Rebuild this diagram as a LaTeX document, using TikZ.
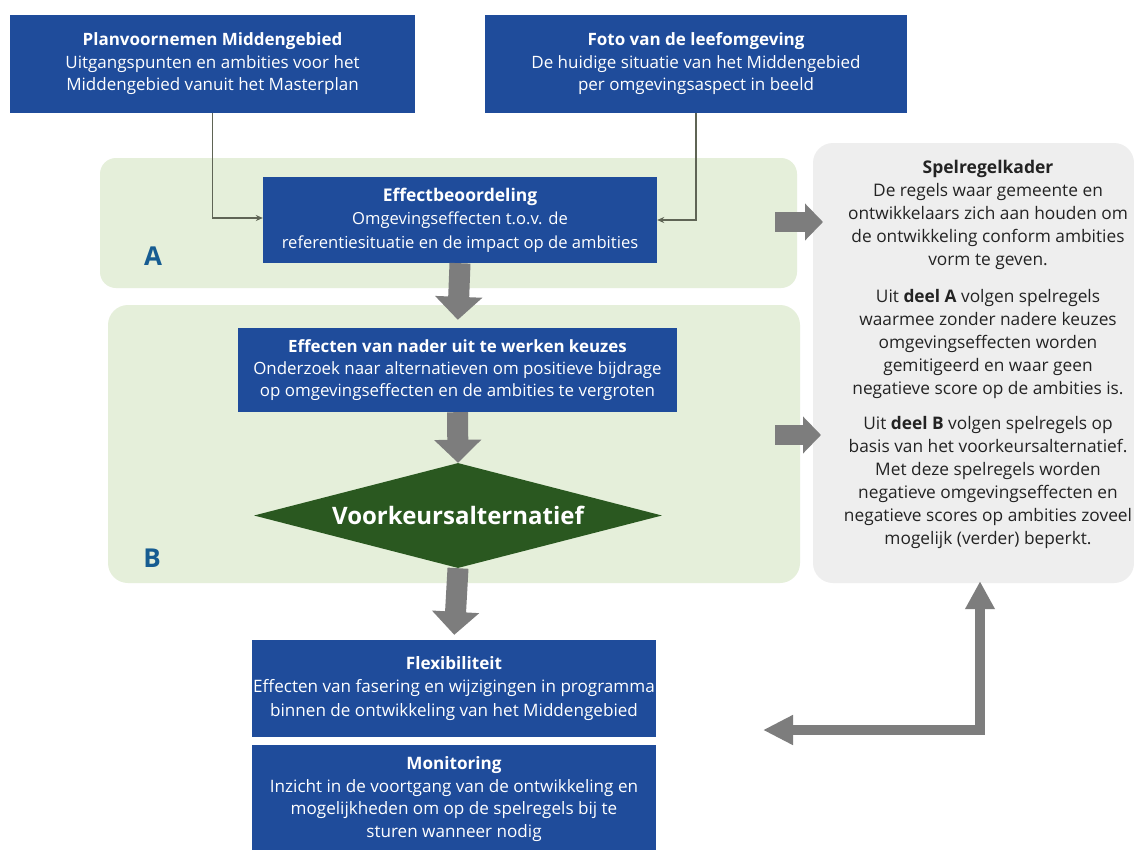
\documentclass[tikz,border=0pt]{standalone}
\usepackage{fontspec}
\setmainfont{Open Sans}
\usetikzlibrary{arrows.meta,shapes.geometric}
\definecolor{boxblue}{RGB}{31,76,155}
\definecolor{lightgreen}{RGB}{229,239,218}
\definecolor{darkgreen}{RGB}{42,88,32}
\definecolor{kadergray}{RGB}{238,238,238}
\definecolor{arrowgray}{RGB}{125,125,125}
\definecolor{linegray}{RGB}{95,100,85}
\definecolor{labelblue}{RGB}{22,92,145}
\definecolor{kadertextcol}{RGB}{35,35,35}
\tikzset{
  bluebox/.style={fill=boxblue, text=white, inner sep=0pt, align=center, anchor=center},
  greenzone/.style={fill=lightgreen, rounded corners=16pt, inner sep=0pt, anchor=center},
  fatarrow/.style={draw=arrowgray, line width=21pt, -{Triangle[width=46pt,length=23pt]}},
  sidearrow/.style={draw=arrowgray, line width=20pt, -{Triangle[width=36pt,length=18pt]}},
  loopback/.style={draw=arrowgray, line width=10pt, line join=miter, {Triangle[width=28pt,length=28pt]}-{Triangle[width=28pt,length=30pt]}},
  thinconn/.style={draw=linegray, line width=1.6pt, -{Stealth[length=7pt,width=6pt]}},
  zonelabel/.style={text=labelblue, font=\fontsize{26}{28}\selectfont\bfseries, anchor=center}
}
\begin{document}
\begin{tikzpicture}[x=1pt,y=-1pt]
\useasboundingbox (0,0) rectangle (1134,849);
\fill[white] (0,0) rectangle (1134,849);

% zones
\node[greenzone, minimum width=697pt, minimum height=130pt] (zoneA) at (448.5,223) {};
\node[greenzone, minimum width=692pt, minimum height=278pt, rounded corners=20pt] (zoneB) at (454,444) {};
\node[fill=kadergray, rounded corners=20pt, inner sep=0pt, minimum width=321pt, minimum height=440pt, anchor=center] (kader) at (973.5,363) {};

% top boxes
\node[bluebox, minimum width=405pt, minimum height=98pt, font=\fontsize{17}{22.5}\selectfont] (plan) at (212.5,64)
  {\textbf{Planvoornemen Middengebied}\\Uitgangspunten en ambities voor het\\Middengebied vanuit het Masterplan};
\node[bluebox, minimum width=422pt, minimum height=98pt, font=\fontsize{17}{22.5}\selectfont] (foto) at (696,64)
  {\textbf{Foto van de leefomgeving}\\De huidige situatie van het Middengebied\\per omgevingsaspect in beeld};

% part A
\node[bluebox, minimum width=394pt, minimum height=86pt, font=\fontsize{16.6}{23.5}\selectfont] (effect) at (460,220)
  {{\fontsize{17.5}{23.5}\selectfont\textbf{Effectbeoordeling}}\\Omgevingseffecten t.o.v. de\\referentiesituatie en de impact op de ambities};
\node[zonelabel] (labA) at (153,256) {A};

% part B
\node[bluebox, minimum width=439pt, minimum height=84pt, font=\fontsize{16.9}{22}\selectfont] (effecten) at (457.5,370)
  {\textbf{Effecten van nader uit te werken keuzes}\\Onderzoek naar alternatieven om positieve bijdrage\\op omgevingseffecten en de ambities te vergroten};
\node[diamond, fill=darkgreen, text=white, inner sep=0pt, shape aspect=3.9, minimum width=408pt, minimum height=105pt, anchor=center, font=\fontsize{24}{26}\selectfont\bfseries] (voork) at (458,515.5) {Voorkeursalternatief};
\node[zonelabel] (labB) at (152,558) {B};

% lower boxes
\node[bluebox, minimum width=404pt, minimum height=97pt, font=\fontsize{17.1}{23.5}\selectfont] (flex) at (454,688.5)
  {\textbf{Flexibiliteit}\\Effecten van fasering en wijzigingen in programma\\binnen de ontwikkeling van het Middengebied};
\node[bluebox, minimum width=404pt, minimum height=108pt, font=\fontsize{17.1}{22.8}\selectfont] (monitor) at (454,799)
  {\textbf{Monitoring}\\Inzicht in de voortgang van de ontwikkeling en\\mogelijkheden om op de spelregels bij te\\sturen wanneer nodig};

% kader text
\node[align=center, inner sep=0pt, anchor=center, text=kadertextcol, font=\fontsize{17.3}{23}\selectfont] (kadertext) at (988,354)
  {{\fontsize{17.5}{23}\selectfont\textbf{Spelregelkader}}\\
   De regels waar gemeente en\\ontwikkelaars zich aan houden om\\de ontwikkeling conform ambities\\vorm te geven.\\[14pt]
   Uit \textbf{deel A} volgen spelregels\\waarmee zonder nadere keuzes\\omgevingseffecten worden\\gemitigeerd en waar geen\\negatieve score op de ambities is.\\[12pt]
   Uit \textbf{deel B} volgen spelregels op\\basis van het voorkeursalternatief.\\Met deze spelregels worden\\negatieve omgevingseffecten en\\negatieve scores op ambities zoveel\\mogelijk (verder) beperkt.};

% thin connectors
\draw[thinconn] (plan.south) |- ([yshift=2pt]effect.west);
\draw[thinconn] (foto.south) |- (effect.east);

% fat arrows
\draw[fatarrow, shorten >=8pt] (effect.south) -- (effecten.north);
\draw[fatarrow] (effecten.south) -- (voork.north);
\draw[fatarrow, shorten >=5pt] (voork.south) -- (flex.north);

\coordinate (aS) at (775,222);
\coordinate (aE) at (823,222);
\draw[sidearrow] (aS) -- (aE);
\coordinate (bS) at (775,435);
\coordinate (bE) at (821,435);
\draw[sidearrow] (bS) -- (bE);

\coordinate (lcorner) at (980,730);
\coordinate (lleft) at (763,730);
\draw[loopback] ([yshift=2pt]kader.south -| lcorner) -- (lcorner) -- (lleft);
\end{tikzpicture}
\end{document}
